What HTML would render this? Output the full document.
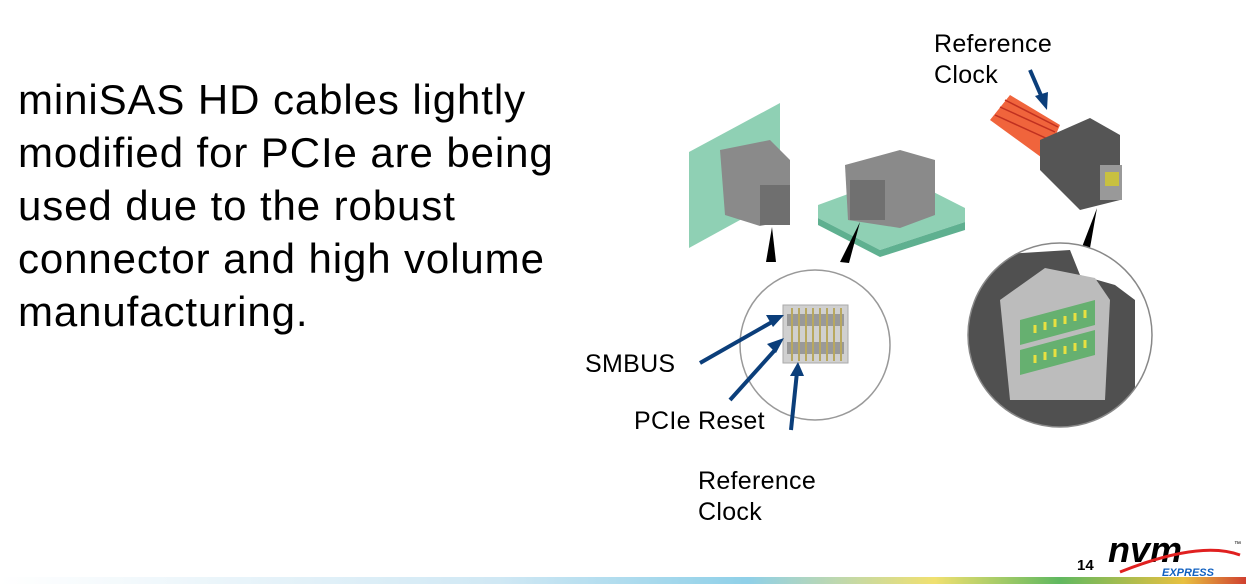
<!DOCTYPE html>
<html><head><style>
body{margin:0;width:1246px;height:586px;overflow:hidden;background:#fff;font-family:"Liberation Sans",sans-serif;position:relative}
.main{position:absolute;left:18px;top:73px;font-size:42px;letter-spacing:0.9px;line-height:53px;color:#000}
.lb{position:absolute;font-size:25px;letter-spacing:0.3px;line-height:31px;color:#000}
</style></head><body>
<div class="main">miniSAS HD cables lightly<br>modified for PCIe are being<br>used due to the robust<br>connector and high volume<br>manufacturing.</div>
<div class="lb" style="left:934px;top:29px">Reference<br>Clock</div>
<div class="lb" style="left:585px;top:349px">SMBUS</div>
<div class="lb" style="left:634px;top:406px">PCIe Reset</div>
<div class="lb" style="left:698px;top:466px">Reference<br>Clock</div>
<svg width="1246" height="586" style="position:absolute;left:0;top:0">
<defs>
<linearGradient id="bar" x1="0" x2="1"><stop offset="0" stop-color="#fff"/><stop offset=".4" stop-color="#d0e8f4"/><stop offset=".6" stop-color="#8fd0e8"/><stop offset=".75" stop-color="#f0e070"/><stop offset=".85" stop-color="#60b860"/><stop offset=".95" stop-color="#e8c040"/><stop offset="1" stop-color="#d04030"/></linearGradient>
<clipPath id="bc"><circle cx="1060" cy="335" r="92"/></clipPath>
</defs>
<!-- left board -->
<polygon points="689,152 780,103 780,198 689,248" fill="#8fd0b4"/>
<polygon points="720,150 770,140 790,160 790,220 760,226 725,215" fill="#8a8a8a"/>
<rect x="760" y="185" width="30" height="40" fill="#6f6f6f"/>
<!-- right board -->
<polygon points="818,205 900,175 965,208 965,222 880,250 818,218" fill="#8fd0b4"/>
<polygon points="818,218 880,250 965,222 965,230 880,257 818,225" fill="#5fb090"/>
<polygon points="845,165 900,150 935,160 935,215 900,228 848,220" fill="#8a8a8a"/>
<rect x="850" y="180" width="35" height="40" fill="#707070"/>
<polygon points="772,227 766,262 776,262" fill="#000"/>
<polygon points="860,222 840,262 849,263" fill="#000"/>
<polygon points="1097,208 1082,247 1090,248" fill="#000"/>
<!-- small circle -->
<circle cx="815" cy="345" r="75" fill="#fff" stroke="#999" stroke-width="1.5"/>
<rect x="783" y="305" width="65" height="58" fill="#d0d0d0" stroke="#aaa"/>
<rect x="787" y="314" width="57" height="12" fill="#999"/>
<rect x="787" y="342" width="57" height="12" fill="#999"/>
<g stroke="#b8a860" stroke-width="2">
<path d="M792 308v30M799 308v30M806 308v30M813 308v30M820 308v30M827 308v30M834 308v30M841 308v30M792 337v24M799 337v24M806 337v24M813 337v24M820 337v24M827 337v24M834 337v24M841 337v24"/></g>
<!-- cable -->
<polygon points="990,120 1010,95 1060,125 1045,160" fill="#f0643c"/>
<g stroke="#c03020" stroke-width="1.5"><path d="M995 115L1050 140M1000 107L1055 132M1005 100L1058 127"/></g>
<polygon points="1040,140 1090,118 1120,135 1120,200 1080,210 1040,170" fill="#555"/>
<rect x="1100" y="165" width="22" height="35" fill="#999"/>
<rect x="1105" y="172" width="14" height="14" fill="#c8c040"/>
<!-- big circle -->
<circle cx="1060" cy="335" r="92" fill="#fff"/>
<g clip-path="url(#bc)">
<path d="M960 300L990 255L1070 250L1080 275L1115 285L1135 300L1135 440L960 440Z" fill="#505050"/>
<polygon points="1000,300 1045,268 1095,278 1110,300 1105,400 1010,400" fill="#bcbcbc"/>
<polygon points="1020,320 1095,300 1095,325 1020,345" fill="#66b070"/>
<polygon points="1020,350 1095,330 1095,355 1020,375" fill="#66b070"/>
<g stroke="#e8e040" stroke-width="3"><path d="M1035 325l0 8M1045 322l0 8M1055 319l0 8M1065 316l0 8M1075 313l0 8M1085 310l0 8M1035 355l0 8M1045 352l0 8M1055 349l0 8M1065 346l0 8M1075 343l0 8M1085 340l0 8"/></g>
</g>
<circle cx="1060" cy="335" r="92" fill="none" stroke="#888" stroke-width="1.5"/>
<!-- blue arrows -->
<g stroke="#0b3e7a" stroke-width="4" fill="#0b3e7a">
<line x1="1030" y1="70" x2="1043" y2="100"/>
<line x1="700" y1="363" x2="772" y2="322"/>
<line x1="730" y1="400" x2="775" y2="350"/>
<line x1="791" y1="430" x2="797" y2="372"/>
</g>
<g fill="#0b3e7a">
<polygon points="1047,110 1035,96 1048,92"/>
<polygon points="784,315 766,315 773,327"/>
<polygon points="784,338 767,344 776,353"/>
<polygon points="798,362 790,376 804,376"/>
</g>
<rect x="0" y="577" width="1246" height="7" fill="url(#bar)"/>
<text x="1077" y="570" font-size="15" font-weight="bold" font-family="Liberation Sans">14</text>
<text x="1108" y="562" font-size="36" font-weight="bold" font-style="italic" font-family="Liberation Sans">nvm</text>
<path d="M1120 572Q1200 540 1240 555" stroke="#e02020" stroke-width="3" fill="none"/>
<text x="1162" y="576" font-size="11" font-weight="bold" font-style="italic" fill="#1060c0" font-family="Liberation Sans">EXPRESS</text>
<text x="1234" y="546" font-size="7" font-family="Liberation Sans">™</text>
</svg>
</body></html>
